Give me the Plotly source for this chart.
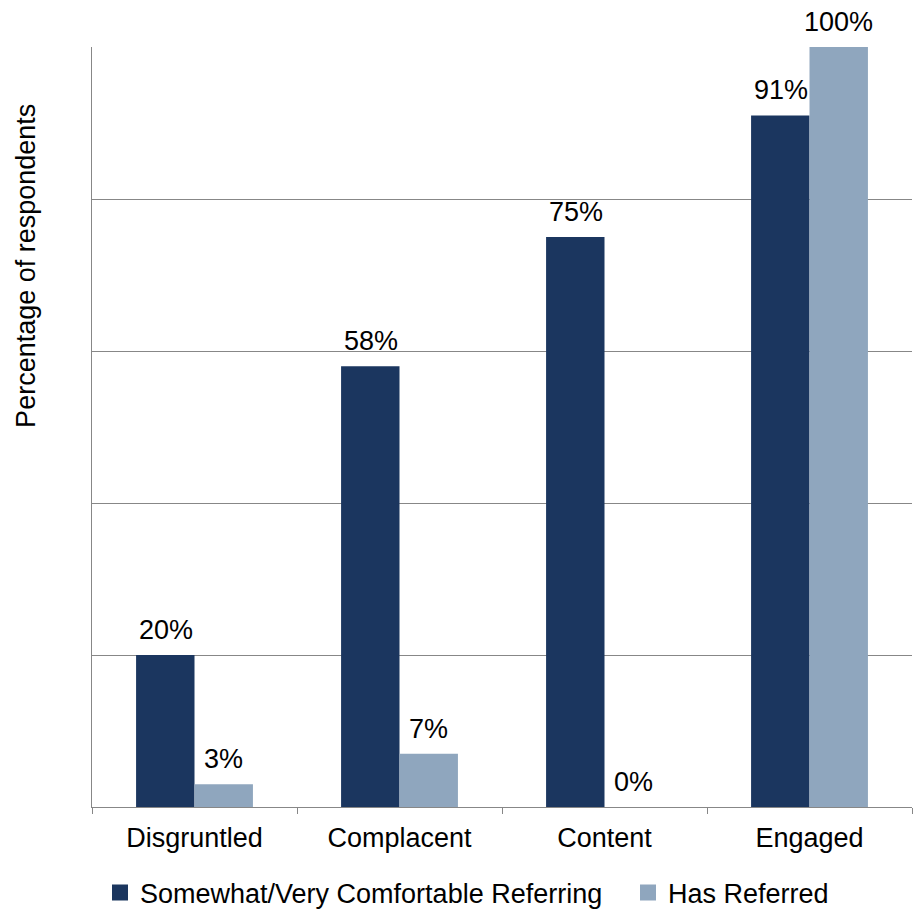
import plotly.graph_objects as go

categories = ["Disgruntled", "Complacent", "Content", "Engaged"]
comfortable_referring = [20, 58, 75, 91]
has_referred = [3, 7, 0, 100]
series_names = ["Somewhat/Very Comfortable Referring", "Has Referred"]

DARK = "#1B365F"
LIGHT = "#8FA6BE"
GRID = "#878787"
FONT = "Liberation Sans, Arial, sans-serif"
FS = 27

fig = go.Figure()
for vals, name, color in ((comfortable_referring, series_names[0], DARK),
                          (has_referred, series_names[1], LIGHT)):
    fig.add_trace(go.Bar(x=categories, y=vals, name=name, showlegend=False,
                         legendgroup=name,
                         marker=dict(color=color, line=dict(width=0))))

# legend keys drawn as larger square swatches, one legend box per series
for name, color, lg in ((series_names[0], DARK, "legend"),
                        (series_names[1], LIGHT, "legend2")):
    fig.add_trace(go.Scatter(x=[None], y=[None], mode="markers", name=name,
                             legendgroup=name, legend=lg,
                             marker=dict(symbol="square", size=16, color=color)))

# value labels above each bar
half = 29
for vals, shift in ((comfortable_referring, -half), (has_referred, half)):
    for c, v in zip(categories, vals):
        fig.add_annotation(x=c, y=v, text=f"{v}%", showarrow=False,
                           xshift=shift, yshift=8, yanchor="bottom",
                           font=dict(family=FONT, size=FS, color="black"))

fig.add_annotation(text="Percentage of respondents", textangle=-90,
                   xref="paper", yref="paper", x=0, y=0.712, xshift=-66,
                   xanchor="center", yanchor="middle", showarrow=False,
                   font=dict(family=FONT, size=FS, color="black"))

legend_style = dict(orientation="h", xanchor="left", xref="container",
                    y=0.0176, yanchor="middle", yref="container",
                    bgcolor="rgba(0,0,0,0)",
                    font=dict(family=FONT, size=FS, color="black"),
                    itemsizing="trace")

fig.update_layout(
    width=913, height=909,
    margin=dict(l=92, r=1, t=47, b=102, autoexpand=False),
    paper_bgcolor="white", plot_bgcolor="white",
    barmode="group", bargap=0.43, bargroupgap=0,
    font=dict(family=FONT, size=FS, color="black"),
    showlegend=True,
    legend=dict(x=100 / 913, **legend_style),
    legend2=dict(x=628 / 913, **legend_style),
)
fig.update_xaxes(type="category", showline=True, linecolor=GRID, linewidth=1,
                 ticks="outside", tickson="boundaries", ticklen=6, tickcolor=GRID,
                 ticklabelstandoff=7, showgrid=False,
                 tickfont=dict(family=FONT, size=FS, color="black"))
fig.update_yaxes(range=[0, 100], dtick=20, showgrid=True, gridcolor=GRID, gridwidth=1,
                 showline=True, linecolor=GRID, linewidth=1, showticklabels=False,
                 ticks="", zeroline=False)

fig.write_html("out.html")
